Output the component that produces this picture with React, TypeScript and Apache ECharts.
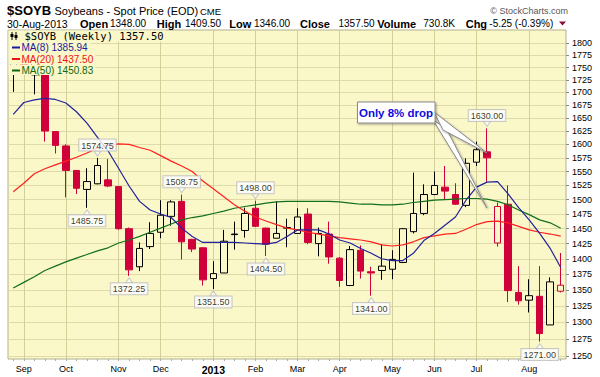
import React, { useEffect, useRef } from 'react';
import * as echarts from 'echarts';

// Weekly candles (week starting Monday)
const weeks = [
  '2012-08-27', '2012-09-03', '2012-09-10', '2012-09-17', '2012-09-24',
  '2012-10-01', '2012-10-08', '2012-10-15', '2012-10-22', '2012-10-29',
  '2012-11-05', '2012-11-12', '2012-11-19', '2012-11-26',
  '2012-12-03', '2012-12-10', '2012-12-17', '2012-12-24', '2012-12-31',
  '2013-01-07', '2013-01-14', '2013-01-21', '2013-01-28',
  '2013-02-04', '2013-02-11', '2013-02-18', '2013-02-25',
  '2013-03-04', '2013-03-11', '2013-03-18', '2013-03-25',
  '2013-04-01', '2013-04-08', '2013-04-15', '2013-04-22', '2013-04-29',
  '2013-05-06', '2013-05-13', '2013-05-20', '2013-05-27',
  '2013-06-03', '2013-06-10', '2013-06-17', '2013-06-24',
  '2013-07-01', '2013-07-08', '2013-07-15', '2013-07-22', '2013-07-29',
  '2013-08-05', '2013-08-12', '2013-08-19', '2013-08-26',
];

const opens = [1745, 1780, 1735, 1750, 1624, 1597, 1552, 1518, 1528, 1535, 1523, 1450, 1387, 1420, 1444, 1471, 1497, 1432, 1418, 1368, 1377, 1440, 1447, 1485, 1451, 1434, 1451, 1442, 1475, 1425, 1441, 1401, 1357, 1414, 1379, 1381, 1383, 1394, 1445, 1476, 1509, 1522, 1509, 1490, 1567, 1586, 1426, 1492, 1346, 1334, 1340, 1296, 1348];
const highs = [1785, 1790, 1770, 1752, 1625, 1600, 1552, 1556, 1574.75, 1573, 1523, 1452, 1427, 1461, 1499, 1499, 1508.75, 1433, 1419, 1396, 1448, 1462, 1486, 1498, 1452, 1497, 1467, 1485, 1485, 1452, 1462, 1403, 1421, 1422, 1387, 1424, 1414, 1451, 1548, 1527, 1550, 1560, 1529, 1574, 1605, 1630, 1495, 1525, 1388, 1367, 1388, 1370, 1409.5];
const lows = [1701, 1735, 1696, 1605, 1583, 1504, 1510, 1485.75, 1527, 1522, 1448, 1372.25, 1380, 1416, 1434, 1455, 1399, 1411, 1357, 1351.5, 1377, 1415, 1435, 1453, 1404.5, 1434, 1419, 1442, 1424, 1404, 1392, 1355, 1356, 1368, 1341, 1366, 1367, 1393, 1442, 1473, 1508, 1500, 1491, 1487, 1560, 1531, 1420, 1331, 1327, 1315, 1271, 1296, 1346];
const closes = [1765, 1745, 1760, 1625, 1598, 1552, 1520, 1532, 1561, 1524, 1450, 1382, 1417, 1442, 1473, 1496, 1428, 1416, 1366, 1376, 1429, 1441, 1476, 1454, 1424, 1442, 1452, 1470, 1427, 1442, 1403, 1365, 1415, 1380, 1377, 1388, 1399, 1450, 1476, 1509, 1525, 1515, 1492, 1565, 1590, 1575, 1488, 1349, 1333, 1341, 1283, 1362.75, 1357.5];

const ma8 = [1657, 1680, 1685, 1688, 1686, 1679, 1662, 1640, 1613, 1588, 1556, 1524, 1497, 1482, 1475, 1469, 1451, 1437, 1427, 1427, 1427, 1427, 1426, 1425, 1424, 1427, 1437, 1448, 1448, 1448, 1441, 1431, 1426, 1417, 1409, 1400, 1397, 1397, 1409, 1430, 1442, 1456, 1470, 1499, 1522, 1531, 1532, 1510, 1486, 1465, 1442, 1417, 1385.94];
const ma20 = [1514, 1529, 1546, 1555, 1562, 1569, 1576, 1584, 1593, 1598, 1601, 1600, 1594, 1589, 1579, 1569, 1560, 1550, 1533, 1519, 1505, 1491, 1480, 1470, 1463, 1457, 1451, 1448, 1444, 1441, 1438, 1435, 1433, 1431, 1428, 1423, 1421, 1423, 1428, 1435, 1438, 1441, 1442, 1449, 1457, 1462, 1463, 1460, 1454, 1448, 1444, 1441, 1437.5];
const ma50 = [1353, 1362, 1371, 1381, 1388, 1395, 1401, 1407, 1413, 1418, 1426, 1431, 1437, 1444, 1451, 1458, 1465, 1469, 1472, 1476, 1480, 1485, 1488, 1491, 1494, 1496, 1497, 1497, 1497, 1497, 1497, 1496, 1494, 1492, 1492, 1491, 1491, 1492, 1495, 1497, 1499, 1500, 1501, 1502, 1502, 1501, 1497, 1491, 1482, 1474, 1465, 1460, 1450.83];

const yTicks = [1250, 1275, 1300, 1325, 1350, 1375, 1400, 1425, 1450, 1475, 1500, 1525, 1550, 1575, 1600, 1625, 1650, 1675, 1700, 1725, 1750, 1775, 1800];
const Y_MIN = 1245.5;
const Y_MAX = 1828.3;

const highLabelIdx = [8, 16, 23, 45];
const lowLabelIdx = [7, 11, 19, 24, 34, 50];

const monthNames = ['Jan', 'Feb', 'Mar', 'Apr', 'May', 'Jun', 'Jul', 'Aug', 'Sep', 'Oct', 'Nov', 'Dec'];

const BG = '#faf7c9';
const GRIDC = '#dedba8';
const VGRIDC = '#d2cf98';
const RED = '#d0003a';
const FONT = "'Liberation Sans', Arial, sans-serif";

export default function App() {
  const ref = useRef<HTMLDivElement>(null);
  useEffect(() => {
    const chart = echarts.init(ref.current!, null, { renderer: 'svg' });
    const L = Math.log;
    const isMonthStart = (i: number) => i > 0 && weeks[i].slice(5, 7) !== weeks[i - 1].slice(5, 7);

    const candleData = weeks.map((w, i) => {
      const o = opens[i];
      const c = closes[i];
      const prev = i > 0 ? closes[i - 1] : c;
      const col = c >= prev ? '#000000' : RED;
      const fill = c > o ? BG : col;
      return {
        value: [L(o), L(c), L(lows[i]), L(highs[i])],
        itemStyle: { color: fill, color0: fill, borderColor: col, borderColor0: col, borderColorDoji: col, borderWidth: 1 },
      };
    });

    const labelBox = {
      show: true,
      backgroundColor: '#ffffff',
      borderColor: '#bdbdbd',
      borderWidth: 1,
      padding: [1, 2, 0, 2],
      fontSize: 9,
      lineHeight: 10,
      fontFamily: FONT,
      color: '#000',
      formatter: (p: any) => p.name,
    };

    const txt = (x: number, y: number, text: string, o: any = {}) => ({
      type: 'text', x, y, z: o.z || 100, silent: true,
      style: {
        text, fill: o.fill || '#000', fontSize: o.size || 10.5, fontWeight: o.bold ? 'bold' : 'normal',
        fontFamily: o.family || FONT, textAlign: o.align || 'left', textVerticalAlign: 'middle',
      },
    });
    const bgRect = (x: number, y: number, w: number, h: number) => ({
      type: 'rect', z: 99, silent: true, shape: { x, y, width: w, height: h }, style: { fill: BG },
    });
    const dash = (y: number, color: string) => ({
      type: 'line', z: 100, silent: true, shape: { x1: 12, y1: y, x2: 20, y2: y }, style: { stroke: color, lineWidth: 2 },
    });

    const wedgeStyle = {
      fill: '#ffffff', stroke: '#8a8a8a', lineWidth: 1,
      shadowColor: 'rgba(0,0,0,0.35)', shadowBlur: 2, shadowOffsetX: 1, shadowOffsetY: 1,
    };

    const graphics: any[] = [
      // header line 1
      txt(7, 10.5, '$SOYB', { bold: true, size: 13 }),
      txt(54.5, 10.5, 'Soybeans - Spot Price (EOD)', { size: 11 }),
      txt(200, 11, 'CME', { size: 9.5 }),
      txt(568, 11, '\u00a9 StockCharts.com', { size: 9, fill: '#555', align: 'right' }),
      // header line 2
      txt(7, 23.5, '30-Aug-2013', { size: 10.5 }),
      txt(80, 23.5, 'Open', { bold: true, size: 11 }),
      txt(110, 23.5, '1348.00', { size: 10 }),
      txt(156.7, 23.5, 'High', { bold: true, size: 11 }),
      txt(185, 23.5, '1409.50', { size: 10 }),
      txt(229.3, 23.5, 'Low', { bold: true, size: 11 }),
      txt(254, 23.5, '1346.00', { size: 10 }),
      txt(300, 23.5, 'Close', { bold: true, size: 11 }),
      txt(338.5, 23.5, '1357.50', { size: 10 }),
      txt(377.3, 23.5, 'Volume', { bold: true, size: 11 }),
      txt(423.3, 23.5, '730.8K', { size: 10 }),
      txt(465.7, 23.5, 'Chg', { bold: true, size: 11 }),
      txt(489.3, 23.5, '-5.25 (-0.39%)', { size: 10 }),
      {
        type: 'polygon', z: 100, silent: true,
        shape: { points: [[559, 21.5], [566, 21.5], [562.5, 25.5]] }, style: { fill: '#8b1030' },
      },
      // in-chart legend
      bgRect(8.5, 30.5, 158, 11),
      bgRect(8.5, 41.5, 82, 11.5),
      bgRect(8.5, 53, 87, 11.5),
      bgRect(8.5, 64.5, 87, 10.5),
      { type: 'line', z: 100, silent: true, shape: { x1: 12, y1: 32, x2: 12, y2: 40 }, style: { stroke: '#000', lineWidth: 1 } },
      { type: 'rect', z: 100, silent: true, shape: { x: 10.5, y: 34, width: 3, height: 3 }, style: { fill: '#000' } },
      { type: 'line', z: 100, silent: true, shape: { x1: 16, y1: 32, x2: 16, y2: 40 }, style: { stroke: '#000', lineWidth: 1 } },
      { type: 'rect', z: 100, silent: true, shape: { x: 14.5, y: 35, width: 3, height: 3 }, style: { fill: '#000' } },
      txt(24.5, 36, '$SOYB (Weekly) 1357.50', { size: 10.5, family: "'DejaVu Sans Mono', monospace" }),
      dash(47.5, '#1a1a9a'),
      txt(21.5, 47.5, 'MA(8) 1385.94', { size: 10, fill: '#1a1a9a' }),
      dash(59, '#ee1111'),
      txt(21.5, 59, 'MA(20) 1437.50', { size: 10, fill: '#ee1111' }),
      dash(70.5, '#0c6a0c'),
      txt(21.5, 70.5, 'MA(50) 1450.83', { size: 10, fill: '#0c6a0c' }),
      // callout
      { type: 'polygon', z: 101, silent: true, shape: { points: [[433, 120], [446, 128], [487, 208]] }, style: wedgeStyle },
      { type: 'polygon', z: 102, silent: true, shape: { points: [[434, 112], [443, 130], [487, 153]] }, style: wedgeStyle },
      {
        type: 'rect', z: 103, silent: true, shape: { x: 357.5, y: 102, width: 77.5, height: 21 },
        style: { fill: '#ffffff', stroke: '#8a8a8a', lineWidth: 1, shadowColor: 'rgba(0,0,0,0.35)', shadowBlur: 2, shadowOffsetX: 1, shadowOffsetY: 1 },
      },
      txt(396, 112.8, 'Only 8% drop', { bold: true, size: 11.5, fill: '#0d0de0', align: 'center', z: 110 }),
    ];

    chart.setOption({
      animation: false,
      grid: {
        left: 8, top: 30, width: 558, height: 329, show: true,
        backgroundColor: BG, borderColor: '#b3b18f', borderWidth: 1,
      },
      xAxis: {
        type: 'category', data: weeks, boundaryGap: true,
        axisLine: { show: false },
        axisTick: { show: true, alignWithLabel: true, interval: 0, length: 2, lineStyle: { color: '#aaaaaa' } },
        axisLabel: {
          interval: (i: number) => isMonthStart(i),
          margin: 5,
          fontSize: 9, fontFamily: FONT, color: '#000',
          formatter: (v: string) => {
            const m = parseInt(v.slice(5, 7), 10) - 1;
            return m === 0 ? '{b|' + v.slice(0, 4) + '}' : monthNames[m];
          },
          rich: { b: { fontWeight: 'bold', fontSize: 10.5, fontFamily: FONT, color: '#000' } },
        },
        splitLine: { show: true, alignWithLabel: true, interval: (i: number) => isMonthStart(i), lineStyle: { color: VGRIDC, width: 1 } },
      },
      yAxis: {
        type: 'value', position: 'right', min: L(Y_MIN), max: L(Y_MAX),
        axisLine: { show: false },
        axisTick: { show: true, customValues: yTicks.map(L), length: 3, lineStyle: { color: '#888' } },
        axisLabel: {
          customValues: yTicks.map(L), margin: 6, fontSize: 9, fontFamily: FONT, color: '#000',
          formatter: (v: number) => String(Math.round(Math.exp(v))),
        },
        splitLine: { show: true, lineStyle: { color: GRIDC, width: 1 } },
      },
      series: [
        { type: 'candlestick', data: candleData, barWidth: 7, z: 2, silent: true },
        { type: 'line', data: ma50.map(L), showSymbol: false, symbol: 'none', z: 3, silent: true, lineStyle: { color: '#12701a', width: 1.2 } },
        { type: 'line', data: ma20.map(L), showSymbol: false, symbol: 'none', z: 3, silent: true, lineStyle: { color: '#ff2020', width: 1.2 } },
        { type: 'line', data: ma8.map(L), showSymbol: false, symbol: 'none', z: 3, silent: true, lineStyle: { color: '#22229c', width: 1.2 } },
        {
          type: 'scatter', silent: true, z: 5,
          data: highLabelIdx.map((i) => ({ value: [i, L(highs[i])], name: highs[i].toFixed(2) })),
          symbol: 'triangle', symbolRotate: 180, symbolSize: [7, 5], symbolOffset: [0, -4.5],
          itemStyle: { color: '#ffffff', borderColor: '#bdbdbd', borderWidth: 1 },
          label: { ...labelBox, position: 'top', distance: 0 },
        },
        {
          type: 'scatter', silent: true, z: 5,
          data: lowLabelIdx.map((i) => ({ value: [i, L(lows[i])], name: lows[i].toFixed(2) })),
          symbol: 'triangle', symbolSize: [7, 5], symbolOffset: [0, 4.5],
          itemStyle: { color: '#ffffff', borderColor: '#bdbdbd', borderWidth: 1 },
          label: { ...labelBox, position: 'bottom', distance: 0 },
        },
      ],
      graphic: graphics,
    });
    return () => chart.dispose();
  }, []);
  return <div ref={ref} style={{ position: 'absolute', left: 0, top: 0, width: 600, height: 377, background: '#fff' }} />;
}
